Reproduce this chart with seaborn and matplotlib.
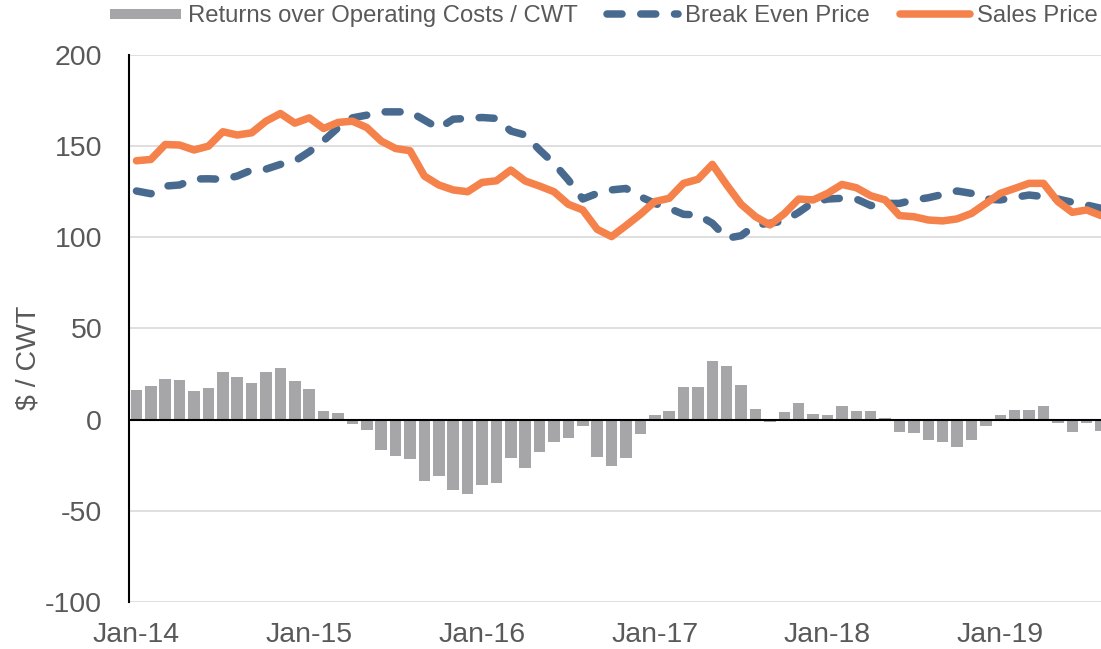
import pandas as pd
import seaborn as sns
import matplotlib.pyplot as plt
from matplotlib.lines import Line2D

# Monthly data, Jan-14 .. Aug-19
returns = [16.5, 18.7, 22.2, 21.6, 15.8, 17.6, 26.4, 23.4, 20.3, 26.4, 28.2, 21.1,
           17.0, 4.6, 3.7, -2.4, -5.5, -16.5, -19.8, -21.6, -33.5, -31.1, -38.5, -40.5,
           -35.9, -35.0, -21.2, -26.4, -17.9, -12.1, -10.1, -3.7, -20.5, -25.3, -21.1, -7.9,
           2.6, 4.6, 18.1, 17.8, 32.4, 29.7, 19.2, 6.0, -1.1, 4.0, 9.3, 3.1,
           2.7, 7.5, 5.0, 5.0, 1.1, -7.0, -7.1, -11.2, -12.5, -14.8, -11.2, -3.3,
           2.7, 5.1, 5.5, 7.3, -1.8, -7.0, -1.6, -6.4]

break_even = [125.4, 123.9, 128.1, 128.7, 132.0, 132.1, 131.8, 133.6, 136.9, 137.4, 140.0, 141.8,
              146.9, 153.0, 160.1, 165.5, 167.0, 168.8, 168.8, 168.8, 164.3, 159.7, 164.8, 165.2,
              165.7, 165.2, 158.3, 156.1, 147.9, 140.5, 131.4, 121.0, 124.1, 126.0, 126.8, 122.3,
              118.6, 115.9, 112.6, 112.3, 107.7, 99.5, 100.9, 106.8, 107.7, 109.0, 113.7, 119.2,
              121.0, 121.4, 121.0, 117.4, 118.6, 118.6, 120.5, 121.7, 123.5, 125.4, 124.1, 121.0,
              120.5, 121.9, 123.2, 122.3, 121.0, 119.2, 117.7, 115.9]

sales = [142.0, 142.7, 150.9, 150.6, 147.9, 150.0, 157.9, 156.1, 157.3, 163.7, 167.9, 162.6,
         165.5, 159.7, 163.0, 163.7, 160.2, 152.8, 148.7, 147.5, 133.6, 128.7, 126.0, 125.0,
         130.1, 131.0, 136.9, 130.9, 128.1, 125.0, 118.1, 115.0, 104.4, 100.4, 106.4, 112.6,
         119.6, 121.4, 129.6, 131.8, 140.0, 128.7, 118.1, 111.3, 106.8, 113.0, 121.0, 120.5,
         124.1, 129.0, 127.2, 122.8, 120.5, 111.9, 111.3, 109.5, 109.0, 110.1, 113.1, 118.6,
         124.1, 126.8, 129.6, 129.6, 119.6, 113.7, 115.0, 111.9]

months = pd.date_range("2014-01-01", periods=len(returns), freq="MS")

df = pd.DataFrame({"month": months, "returns": returns,
                   "break_even": break_even, "sales": sales})
df["pos"] = range(len(df))

GRAY = "#a6a6a8"
BLUE = "#496a8f"
ORANGE = "#f5814b"
TEXT = "#595959"

sns.set_theme(style="white")
plt.rcParams["font.family"] = ["Liberation Sans", "DejaVu Sans"]
plt.rcParams["axes.unicode_minus"] = False

fig, ax = plt.subplots(figsize=(11.01, 6.49), dpi=100)
fig.subplots_adjust(left=0.1174, right=1.0066, top=0.9153, bottom=0.0724)

# Plotting
sns.barplot(data=df, x="pos", y="returns", color=GRAY, width=0.8,
            edgecolor="none", saturation=1, ax=ax, zorder=2)
sns.lineplot(data=df, x="pos", y="break_even", color=BLUE, lw=5.4,
             linestyle=(0, (2.0, 2.5)), ax=ax, zorder=3)
ax.lines[-1].set_dash_capstyle("round")
ax.lines[-1].set_dash_joinstyle("round")
sns.lineplot(data=df, x="pos", y="sales", color=ORANGE, lw=5.4,
             ax=ax, zorder=4)
ax.lines[-1].set_solid_joinstyle("round")

ax.axhline(0, color="black", lw=1.5, zorder=5)

ax.set_xlim(-0.5, len(df) - 0.5)
ax.set_ylim(-100, 200)
ax.set_yticks(range(-100, 201, 50))
jan = df[df["month"].dt.month == 1]
ax.set_xticks(jan["pos"])
ax.set_xticklabels(jan["month"].dt.strftime("%b-%y"))

ax.grid(axis="y", color="#d9d9d9", lw=1.2, zorder=0)
ax.grid(axis="x", visible=False)
for s in ["top", "right", "bottom"]:
    ax.spines[s].set_visible(False)
ax.spines["left"].set_color("black")
ax.spines["left"].set_linewidth(1.5)
ax.spines["left"].set_zorder(6)

ax.tick_params(axis="y", length=0, pad=19.5, labelsize=20.5, labelcolor=TEXT)
ax.tick_params(axis="x", length=0, pad=14.5, labelsize=20.5, labelcolor=TEXT)
ax.set_xlabel("")
ax.set_ylabel("$ / CWT", fontsize=20.5, color=TEXT)
ax.yaxis.set_label_coords(-0.090, 0.447)

handles = [
    Line2D([], [], color=GRAY, lw=7.2, solid_capstyle="butt"),
    Line2D([], [], color=BLUE, lw=5.4, linestyle=(0, (2.0, 2.5)), dash_capstyle="round"),
    Line2D([], [], color=ORANGE, lw=5.4, solid_capstyle="round"),
]
labels = ["Returns over Operating Costs / CWT", "Break Even Price", "Sales Price"]
fig.legend(handles, labels, loc="center", bbox_to_anchor=(0.5486, 0.9753), ncol=3,
           frameon=False, fontsize=17.2, handlelength=2.95, handletextpad=0.3,
           columnspacing=1.25, labelcolor=TEXT)

plt.savefig("out.png", dpi=100)
